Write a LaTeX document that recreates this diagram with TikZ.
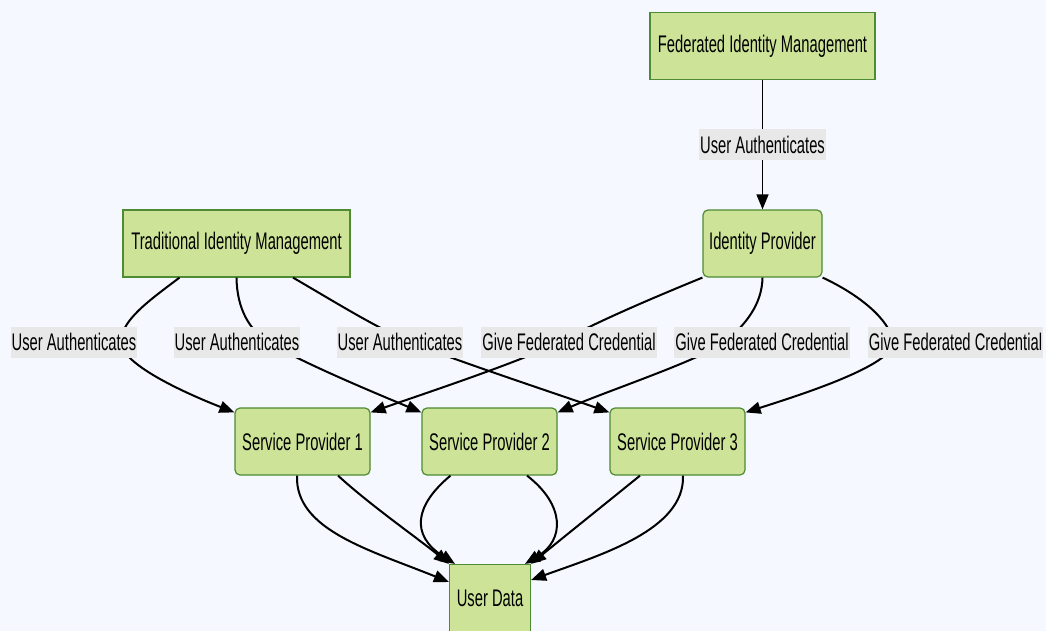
\documentclass[tikz,border=0pt]{standalone}
\usepackage{fontspec}
\setmainfont{Liberation Sans}[FakeStretch=0.615]
\usetikzlibrary{arrows.meta,calc}
\definecolor{bgc}{HTML}{F5F8FE}
\definecolor{boxfill}{HTML}{CDE498}
\definecolor{boxline}{HTML}{4F8A34}
\definecolor{lblc}{HTML}{E8E8E8}
\tikzset{
  box/.style={draw=boxline, fill=boxfill, line width=1.2pt, minimum height=67pt, inner sep=0pt, font=\fontsize{24}{28}\selectfont},
  rbox/.style={box, rounded corners=5pt},
  lbl/.style={fill=lblc, inner xsep=1pt, inner ysep=0pt, minimum height=31pt, font=\fontsize{24}{28}\selectfont},
  edge/.style={line width=2pt, -{Triangle[length=15pt,width=12pt]}},
  thinedge/.style={line width=1.5pt, -{Triangle[length=15pt,width=12pt]}}
}
\begin{document}
\begin{tikzpicture}[x=1pt,y=-1pt]
\fill[bgc] (0,0) rectangle (1046,631);
\useasboundingbox (0,0) rectangle (1046,631);

\node[box, minimum width=225pt] (fim) at (762.5,46) {Federated Identity Management};
\node[rbox, minimum width=119pt] (idp) at (762.5,243.5) {Identity Provider};
\node[box, minimum width=227pt] (tim) at (236.5,243.5) {Traditional Identity Management};
\node[rbox, minimum width=135pt] (sp1) at (302.5,441.5) {Service Provider 1};
\node[rbox, minimum width=135pt] (sp2) at (489.5,441.5) {Service Provider 2};
\node[rbox, minimum width=135pt] (sp3) at (677.5,441.5) {Service Provider 3};
\node[box, minimum width=81pt] (ud) at (490,598) {User Data};

% FIM -> IdP
\draw[thinedge] (fim.south) -- (idp.north);

% TIM -> SPs
\draw[edge] ([xshift=-57pt]tim.south) .. controls (150,300) and (121,320) .. (121,342)
  .. controls (121,365) and (190,395) .. ([yshift=-5pt]sp1.north west);
\draw[edge] (tim.south) .. controls (237,310) and (250,330) .. (268,342)
  .. controls (300,362) and (380,395) .. ([yshift=-5pt]sp2.north west);
\draw[edge] ([xshift=56.5pt]tim.south) .. controls (340,305) and (380,330) .. (415,344)
  .. controls (460,362) and (560,395) .. ([yshift=-5pt]sp3.north west);

% IdP -> SPs
\draw[edge] (idp.south west) .. controls (660,295) and (600,320) .. (560,342)
  .. controls (520,362) and (420,395) .. ([yshift=-5pt]sp1.north east);
\draw[edge] (idp.south) .. controls (762,305) and (745,325) .. (725,342)
  .. controls (700,360) and (610,390) .. ([yshift=-5pt]sp2.north east);
\draw[edge] (idp.south east) .. controls (860,295) and (890,320) .. (893,342)
  .. controls (895,365) and (800,395) .. ([yshift=-5pt]sp3.north east);

% SPs -> User Data
\draw[edge] ([xshift=-5.5pt]sp1.south) .. controls (295,530) and (370,550) .. ([yshift=16pt]ud.west);
\draw[edge] ([xshift=35.5pt]sp1.south) .. controls (370,505) and (420,540) .. (ud.north west);
\draw[edge] ([xshift=-39pt]sp2.south) .. controls (415,505) and (410,535) .. ([xshift=-35pt]ud.north);
\draw[edge] ([xshift=37.5pt]sp2.south) .. controls (565,505) and (565,540) .. ([xshift=35pt]ud.north);
\draw[edge] ([xshift=-37.5pt]sp3.south) .. controls (610,500) and (560,540) .. (ud.north east);
\draw[edge] ([xshift=5.5pt]sp3.south) .. controls (685,530) and (600,555) .. ([yshift=18pt]ud.east);

% labels
\node[lbl] (l0) at (762.5,145) {User Authenticates};
\node[lbl] (l1) at (74,342) {User Authenticates};
\node[lbl] (l2) at (237,342) {User Authenticates};
\node[lbl] (l3) at (400,342) {User Authenticates};
\node[lbl] (l4) at (569,342) {Give Federated Credential};
\node[lbl] (l5) at (762,342) {Give Federated Credential};
\node[lbl] (l6) at (955.5,342) {Give Federated Credential};
\end{tikzpicture}
\end{document}
